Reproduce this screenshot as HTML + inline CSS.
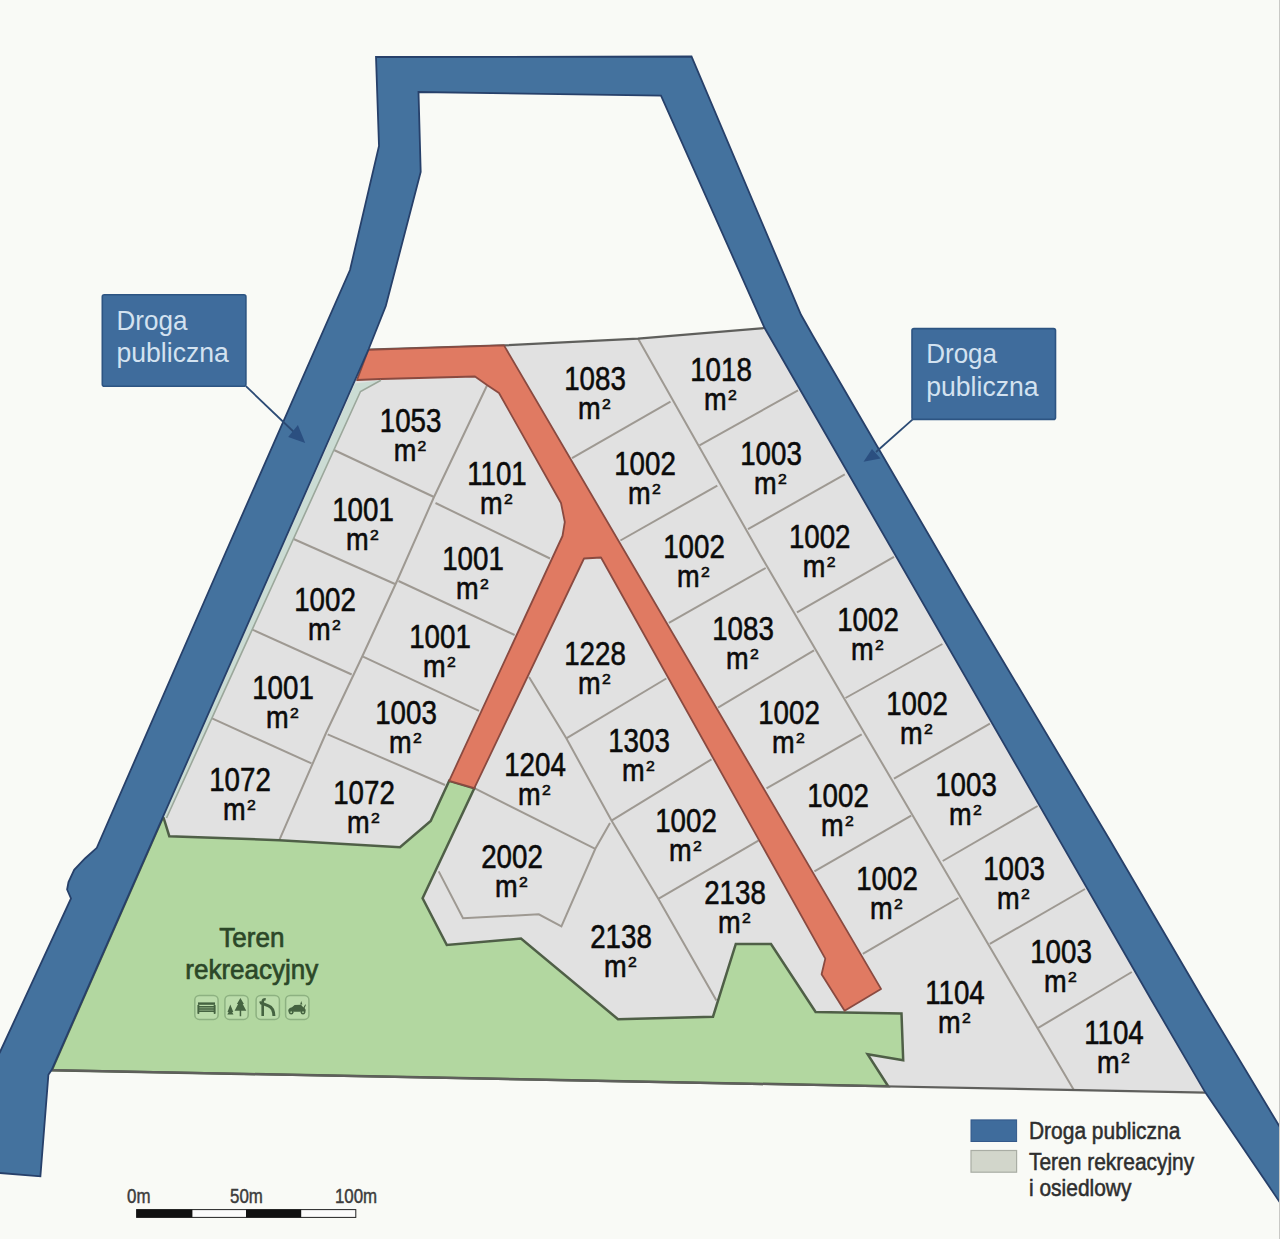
<!DOCTYPE html>
<html lang="pl"><head><meta charset="utf-8"><title>Plan podzialu dzialek</title>
<style>html,body{margin:0;padding:0;background:#f9faf6;}body{width:1280px;height:1239px;overflow:hidden;font-family:"Liberation Sans",sans-serif;}svg{display:block;}</style>
</head><body>
<svg width="1280" height="1239" viewBox="0 0 1280 1239" font-family="'Liberation Sans', sans-serif">
<rect width="1280" height="1239" fill="#f9faf6"/>
<polygon points="368.4,349.6 504.0,345.4 638.0,338.6 764.6,328.0 1151.4,1000.0 1205.4,1092.6 51.7,1070.2 163.2,816.5" fill="#e1e1e1"/>
<polyline points="487.0,385.5 434.0,497.0 397.0,581.0 362.0,657.0 326.0,733.0 279.3,840.2" fill="none" stroke="#9e9992" stroke-width="2"/>
<polyline points="334.0,450.0 434.0,497.0" fill="none" stroke="#9e9992" stroke-width="2"/>
<polyline points="293.6,539.0 395.0,584.0" fill="none" stroke="#9e9992" stroke-width="2"/>
<polyline points="251.7,629.3 351.7,674.5" fill="none" stroke="#9e9992" stroke-width="2"/>
<polyline points="211.5,718.2 311.5,763.4" fill="none" stroke="#9e9992" stroke-width="2"/>
<polyline points="435.5,503.0 550.0,558.5" fill="none" stroke="#9e9992" stroke-width="2"/>
<polyline points="398.5,581.0 514.6,635.0" fill="none" stroke="#9e9992" stroke-width="2"/>
<polyline points="363.0,656.7 479.0,710.8" fill="none" stroke="#9e9992" stroke-width="2"/>
<polyline points="327.7,734.3 445.0,785.0" fill="none" stroke="#9e9992" stroke-width="2"/>
<polyline points="638.0,338.6 760.0,554.3 845.0,700.0 950.5,880.0 1073.7,1089.8" fill="none" stroke="#9e9992" stroke-width="2"/>
<polyline points="572.0,458.2 670.5,401.7" fill="none" stroke="#9e9992" stroke-width="2"/>
<polyline points="620.4,540.5 717.3,485.6" fill="none" stroke="#9e9992" stroke-width="2"/>
<polyline points="668.9,622.8 765.7,568.0" fill="none" stroke="#9e9992" stroke-width="2"/>
<polyline points="718.0,707.6 814.0,650.3" fill="none" stroke="#9e9992" stroke-width="2"/>
<polyline points="766.5,788.3 861.7,734.4" fill="none" stroke="#9e9992" stroke-width="2"/>
<polyline points="814.4,871.4 911.2,815.7" fill="none" stroke="#9e9992" stroke-width="2"/>
<polyline points="862.8,953.8 958.5,898.0" fill="none" stroke="#9e9992" stroke-width="2"/>
<polyline points="699.5,445.3 798.0,390.4" fill="none" stroke="#9e9992" stroke-width="2"/>
<polyline points="748.0,529.2 844.8,474.3" fill="none" stroke="#9e9992" stroke-width="2"/>
<polyline points="797.0,612.4 894.0,556.8" fill="none" stroke="#9e9992" stroke-width="2"/>
<polyline points="845.5,698.0 942.4,644.0" fill="none" stroke="#9e9992" stroke-width="2"/>
<polyline points="894.0,778.6 989.9,723.7" fill="none" stroke="#9e9992" stroke-width="2"/>
<polyline points="942.7,861.0 1037.6,806.0" fill="none" stroke="#9e9992" stroke-width="2"/>
<polyline points="989.8,943.9 1085.0,889.0" fill="none" stroke="#9e9992" stroke-width="2"/>
<polyline points="1038.2,1027.9 1131.8,972.0" fill="none" stroke="#9e9992" stroke-width="2"/>
<polyline points="529.0,677.0 566.3,738.3 611.5,820.6 658.3,898.8 716.4,1000.5" fill="none" stroke="#9e9992" stroke-width="2"/>
<polyline points="566.3,738.3 666.3,678.5" fill="none" stroke="#9e9992" stroke-width="2"/>
<polyline points="611.5,820.6 711.5,759.3" fill="none" stroke="#9e9992" stroke-width="2"/>
<polyline points="658.3,898.8 758.4,840.7" fill="none" stroke="#9e9992" stroke-width="2"/>
<polyline points="474.3,788.2 595.3,848.8" fill="none" stroke="#9e9992" stroke-width="2"/>
<polyline points="610.0,823.0 595.3,848.8 561.4,926.3 538.8,914.3 463.0,918.2 438.7,871.4" fill="none" stroke="#9e9992" stroke-width="2"/>
<polygon points="163.2,816.5 169.3,836.2 279.3,840.2 400.0,847.3 430.7,821.0 449.2,780.8 474.3,788.2 422.6,898.2 446.8,945.0 521.0,938.5 618.0,1019.2 713.0,1016.7 735.8,944.0 771.0,944.0 815.6,1011.9 901.5,1013.6 903.2,1060.3 867.6,1054.2 888.2,1086.3 51.7,1070.2" fill="#b2d7a0" stroke="#4f5f47" stroke-width="2.5" stroke-linejoin="miter"/>
<polyline points="368.4,349.6 504.0,345.4 638.0,338.6 764.6,328.0" fill="none" stroke="#5f5f5c" stroke-width="2.2"/>
<polyline points="51.7,1070.2 1205.4,1092.6" fill="none" stroke="#5f5f5c" stroke-width="2.2"/>
<polygon points="368.4,349.8 504.0,345.4 881.0,988.9 844.6,1010.7 821.6,974.3 825.3,958.6 601.0,557.5 584.0,558.5 474.3,788.2 449.2,780.8 562.5,536.0 564.8,522.0 561.0,503.0 499.0,393.0 487.0,385.0 475.0,376.5 381.0,379.0 357.0,380.0" fill="#e07a62" stroke="#8a4a40" stroke-width="1.8" stroke-linejoin="round"/>
<polygon points="355.0,383.5 381.0,380.3 360.5,391.5 166.5,818.0 163.2,816.5" fill="#cbdcd4"/>
<polyline points="381.0,380.3 360.5,391.5 166.5,818.0" fill="none" stroke="#9ba79b" stroke-width="1.6"/>
<polygon points="-10.0,1073.0 0.0,1052.0 71.0,898.5 67.1,889.5 68.5,882.0 74.2,869.8 85.0,858.5 96.8,847.8 218.0,570.0 350.0,270.0 379.0,146.0 376.0,57.0 691.5,56.5 801.0,314.8 813.0,336.0 966.6,600.0 1109.2,839.0 1203.4,1000.0 1280.0,1127.3 1290.0,1144.0 1290.0,1217.0 1280.0,1202.5 1205.4,1092.6 1151.4,1000.0 764.6,328.0 661.0,95.7 418.5,92.0 420.7,172.0 385.8,306.0 368.7,349.0 51.7,1069.8 48.4,1074.7 40.4,1176.4 0.0,1173.0 -10.0,1172.0" fill="#44729e" stroke="#27406a" stroke-width="1.8" stroke-linejoin="miter"/>
<g fill="#0b0b0b" stroke="#0b0b0b" stroke-width="0.6">
<text transform="translate(410.6,431.8) scale(0.82,1)" font-size="33.8" text-anchor="middle">1053</text>
<text transform="translate(405.0,461.0) scale(0.87,1)" font-size="31.2" text-anchor="middle">m</text>
<text transform="translate(421.9,451.0) scale(1.05,1)" font-size="15.0" text-anchor="middle">2</text>
<text transform="translate(497.0,485.0) scale(0.82,1)" font-size="33.8" text-anchor="middle">1101</text>
<text transform="translate(491.4,514.2) scale(0.87,1)" font-size="31.2" text-anchor="middle">m</text>
<text transform="translate(508.3,504.2) scale(1.05,1)" font-size="15.0" text-anchor="middle">2</text>
<text transform="translate(363.0,521.0) scale(0.82,1)" font-size="33.8" text-anchor="middle">1001</text>
<text transform="translate(357.4,550.2) scale(0.87,1)" font-size="31.2" text-anchor="middle">m</text>
<text transform="translate(374.3,540.2) scale(1.05,1)" font-size="15.0" text-anchor="middle">2</text>
<text transform="translate(473.0,570.0) scale(0.82,1)" font-size="33.8" text-anchor="middle">1001</text>
<text transform="translate(467.4,599.2) scale(0.87,1)" font-size="31.2" text-anchor="middle">m</text>
<text transform="translate(484.3,589.2) scale(1.05,1)" font-size="15.0" text-anchor="middle">2</text>
<text transform="translate(325.0,611.0) scale(0.82,1)" font-size="33.8" text-anchor="middle">1002</text>
<text transform="translate(319.4,640.2) scale(0.87,1)" font-size="31.2" text-anchor="middle">m</text>
<text transform="translate(336.3,630.2) scale(1.05,1)" font-size="15.0" text-anchor="middle">2</text>
<text transform="translate(440.0,648.0) scale(0.82,1)" font-size="33.8" text-anchor="middle">1001</text>
<text transform="translate(434.4,677.2) scale(0.87,1)" font-size="31.2" text-anchor="middle">m</text>
<text transform="translate(451.3,667.2) scale(1.05,1)" font-size="15.0" text-anchor="middle">2</text>
<text transform="translate(283.0,699.0) scale(0.82,1)" font-size="33.8" text-anchor="middle">1001</text>
<text transform="translate(277.4,728.2) scale(0.87,1)" font-size="31.2" text-anchor="middle">m</text>
<text transform="translate(294.3,718.2) scale(1.05,1)" font-size="15.0" text-anchor="middle">2</text>
<text transform="translate(406.0,724.0) scale(0.82,1)" font-size="33.8" text-anchor="middle">1003</text>
<text transform="translate(400.4,753.2) scale(0.87,1)" font-size="31.2" text-anchor="middle">m</text>
<text transform="translate(417.3,743.2) scale(1.05,1)" font-size="15.0" text-anchor="middle">2</text>
<text transform="translate(240.0,791.0) scale(0.82,1)" font-size="33.8" text-anchor="middle">1072</text>
<text transform="translate(234.4,820.2) scale(0.87,1)" font-size="31.2" text-anchor="middle">m</text>
<text transform="translate(251.3,810.2) scale(1.05,1)" font-size="15.0" text-anchor="middle">2</text>
<text transform="translate(364.0,804.0) scale(0.82,1)" font-size="33.8" text-anchor="middle">1072</text>
<text transform="translate(358.4,833.2) scale(0.87,1)" font-size="31.2" text-anchor="middle">m</text>
<text transform="translate(375.3,823.2) scale(1.05,1)" font-size="15.0" text-anchor="middle">2</text>
<text transform="translate(595.0,390.0) scale(0.82,1)" font-size="33.8" text-anchor="middle">1083</text>
<text transform="translate(589.4,419.2) scale(0.87,1)" font-size="31.2" text-anchor="middle">m</text>
<text transform="translate(606.3,409.2) scale(1.05,1)" font-size="15.0" text-anchor="middle">2</text>
<text transform="translate(721.0,381.0) scale(0.82,1)" font-size="33.8" text-anchor="middle">1018</text>
<text transform="translate(715.4,410.2) scale(0.87,1)" font-size="31.2" text-anchor="middle">m</text>
<text transform="translate(732.3,400.2) scale(1.05,1)" font-size="15.0" text-anchor="middle">2</text>
<text transform="translate(645.0,475.0) scale(0.82,1)" font-size="33.8" text-anchor="middle">1002</text>
<text transform="translate(639.4,504.2) scale(0.87,1)" font-size="31.2" text-anchor="middle">m</text>
<text transform="translate(656.3,494.2) scale(1.05,1)" font-size="15.0" text-anchor="middle">2</text>
<text transform="translate(771.0,465.0) scale(0.82,1)" font-size="33.8" text-anchor="middle">1003</text>
<text transform="translate(765.4,494.2) scale(0.87,1)" font-size="31.2" text-anchor="middle">m</text>
<text transform="translate(782.3,484.2) scale(1.05,1)" font-size="15.0" text-anchor="middle">2</text>
<text transform="translate(694.0,558.0) scale(0.82,1)" font-size="33.8" text-anchor="middle">1002</text>
<text transform="translate(688.4,587.2) scale(0.87,1)" font-size="31.2" text-anchor="middle">m</text>
<text transform="translate(705.3,577.2) scale(1.05,1)" font-size="15.0" text-anchor="middle">2</text>
<text transform="translate(819.7,548.0) scale(0.82,1)" font-size="33.8" text-anchor="middle">1002</text>
<text transform="translate(814.1,577.2) scale(0.87,1)" font-size="31.2" text-anchor="middle">m</text>
<text transform="translate(831.0,567.2) scale(1.05,1)" font-size="15.0" text-anchor="middle">2</text>
<text transform="translate(743.0,640.0) scale(0.82,1)" font-size="33.8" text-anchor="middle">1083</text>
<text transform="translate(737.4,669.2) scale(0.87,1)" font-size="31.2" text-anchor="middle">m</text>
<text transform="translate(754.3,659.2) scale(1.05,1)" font-size="15.0" text-anchor="middle">2</text>
<text transform="translate(868.0,631.0) scale(0.82,1)" font-size="33.8" text-anchor="middle">1002</text>
<text transform="translate(862.4,660.2) scale(0.87,1)" font-size="31.2" text-anchor="middle">m</text>
<text transform="translate(879.3,650.2) scale(1.05,1)" font-size="15.0" text-anchor="middle">2</text>
<text transform="translate(789.0,724.0) scale(0.82,1)" font-size="33.8" text-anchor="middle">1002</text>
<text transform="translate(783.4,753.2) scale(0.87,1)" font-size="31.2" text-anchor="middle">m</text>
<text transform="translate(800.3,743.2) scale(1.05,1)" font-size="15.0" text-anchor="middle">2</text>
<text transform="translate(917.0,715.0) scale(0.82,1)" font-size="33.8" text-anchor="middle">1002</text>
<text transform="translate(911.4,744.2) scale(0.87,1)" font-size="31.2" text-anchor="middle">m</text>
<text transform="translate(928.3,734.2) scale(1.05,1)" font-size="15.0" text-anchor="middle">2</text>
<text transform="translate(838.0,807.0) scale(0.82,1)" font-size="33.8" text-anchor="middle">1002</text>
<text transform="translate(832.4,836.2) scale(0.87,1)" font-size="31.2" text-anchor="middle">m</text>
<text transform="translate(849.3,826.2) scale(1.05,1)" font-size="15.0" text-anchor="middle">2</text>
<text transform="translate(966.0,796.0) scale(0.82,1)" font-size="33.8" text-anchor="middle">1003</text>
<text transform="translate(960.4,825.2) scale(0.87,1)" font-size="31.2" text-anchor="middle">m</text>
<text transform="translate(977.3,815.2) scale(1.05,1)" font-size="15.0" text-anchor="middle">2</text>
<text transform="translate(887.0,890.0) scale(0.82,1)" font-size="33.8" text-anchor="middle">1002</text>
<text transform="translate(881.4,919.2) scale(0.87,1)" font-size="31.2" text-anchor="middle">m</text>
<text transform="translate(898.3,909.2) scale(1.05,1)" font-size="15.0" text-anchor="middle">2</text>
<text transform="translate(1014.0,880.0) scale(0.82,1)" font-size="33.8" text-anchor="middle">1003</text>
<text transform="translate(1008.4,909.2) scale(0.87,1)" font-size="31.2" text-anchor="middle">m</text>
<text transform="translate(1025.3,899.2) scale(1.05,1)" font-size="15.0" text-anchor="middle">2</text>
<text transform="translate(955.0,1004.0) scale(0.82,1)" font-size="33.8" text-anchor="middle">1104</text>
<text transform="translate(949.4,1033.2) scale(0.87,1)" font-size="31.2" text-anchor="middle">m</text>
<text transform="translate(966.3,1023.2) scale(1.05,1)" font-size="15.0" text-anchor="middle">2</text>
<text transform="translate(1061.0,963.0) scale(0.82,1)" font-size="33.8" text-anchor="middle">1003</text>
<text transform="translate(1055.4,992.2) scale(0.87,1)" font-size="31.2" text-anchor="middle">m</text>
<text transform="translate(1072.3,982.2) scale(1.05,1)" font-size="15.0" text-anchor="middle">2</text>
<text transform="translate(1114.0,1044.0) scale(0.82,1)" font-size="33.8" text-anchor="middle">1104</text>
<text transform="translate(1108.4,1073.2) scale(0.87,1)" font-size="31.2" text-anchor="middle">m</text>
<text transform="translate(1125.3,1063.2) scale(1.05,1)" font-size="15.0" text-anchor="middle">2</text>
<text transform="translate(595.0,665.0) scale(0.82,1)" font-size="33.8" text-anchor="middle">1228</text>
<text transform="translate(589.4,694.2) scale(0.87,1)" font-size="31.2" text-anchor="middle">m</text>
<text transform="translate(606.3,684.2) scale(1.05,1)" font-size="15.0" text-anchor="middle">2</text>
<text transform="translate(639.0,752.0) scale(0.82,1)" font-size="33.8" text-anchor="middle">1303</text>
<text transform="translate(633.4,781.2) scale(0.87,1)" font-size="31.2" text-anchor="middle">m</text>
<text transform="translate(650.3,771.2) scale(1.05,1)" font-size="15.0" text-anchor="middle">2</text>
<text transform="translate(535.0,776.0) scale(0.82,1)" font-size="33.8" text-anchor="middle">1204</text>
<text transform="translate(529.4,805.2) scale(0.87,1)" font-size="31.2" text-anchor="middle">m</text>
<text transform="translate(546.3,795.2) scale(1.05,1)" font-size="15.0" text-anchor="middle">2</text>
<text transform="translate(686.0,832.0) scale(0.82,1)" font-size="33.8" text-anchor="middle">1002</text>
<text transform="translate(680.4,861.2) scale(0.87,1)" font-size="31.2" text-anchor="middle">m</text>
<text transform="translate(697.3,851.2) scale(1.05,1)" font-size="15.0" text-anchor="middle">2</text>
<text transform="translate(512.0,868.0) scale(0.82,1)" font-size="33.8" text-anchor="middle">2002</text>
<text transform="translate(506.4,897.2) scale(0.87,1)" font-size="31.2" text-anchor="middle">m</text>
<text transform="translate(523.3,887.2) scale(1.05,1)" font-size="15.0" text-anchor="middle">2</text>
<text transform="translate(735.0,904.0) scale(0.82,1)" font-size="33.8" text-anchor="middle">2138</text>
<text transform="translate(729.4,933.2) scale(0.87,1)" font-size="31.2" text-anchor="middle">m</text>
<text transform="translate(746.3,923.2) scale(1.05,1)" font-size="15.0" text-anchor="middle">2</text>
<text transform="translate(621.0,948.0) scale(0.82,1)" font-size="33.8" text-anchor="middle">2138</text>
<text transform="translate(615.4,977.2) scale(0.87,1)" font-size="31.2" text-anchor="middle">m</text>
<text transform="translate(632.3,967.2) scale(1.05,1)" font-size="15.0" text-anchor="middle">2</text>
</g>
<polyline points="245.9,386.2 296.0,434.0" fill="none" stroke="#2b4a74" stroke-width="1.8"/>
<polygon points="305.2,443.1 297.9,425.0 288.2,437.0" fill="#2b4f80"/>
<rect x="102.3" y="294.7" width="143.60000000000002" height="91.5" rx="2" fill="#3f6c9c" stroke="#2d5482" stroke-width="1.6"/>
<g fill="#d3e2f0" font-size="28"><text transform="translate(116.5,330) scale(0.93,1)">Droga</text><text transform="translate(116.5,362) scale(0.95,1)">publiczna</text></g>
<polyline points="912.7,419.4 876.0,452.0" fill="none" stroke="#2b4a74" stroke-width="1.8"/>
<polygon points="863.5,461.7 872.0,449.0 880.5,458.6" fill="#2b4f80"/>
<rect x="912" y="328.6" width="143.5" height="90.79999999999995" rx="2" fill="#3f6c9c" stroke="#2d5482" stroke-width="1.6"/>
<g fill="#d3e2f0" font-size="28"><text transform="translate(926.2,363.4) scale(0.93,1)">Droga</text><text transform="translate(926.2,396.1) scale(0.95,1)">publiczna</text></g>
<g fill="#2c4728" stroke="#2c4728" stroke-width="0.7" font-size="28" text-anchor="middle"><text transform="translate(251.8,947) scale(0.93,1)">Teren</text><text transform="translate(251.8,978.5) scale(0.93,1)">rekreacyjny</text></g>
<rect x="194.8" y="995.4" width="23.3" height="24" rx="4.5" fill="#bbdcab" stroke="#8db181" stroke-width="1.5"/>
<g transform="translate(194.8,995.4)" fill="#456341"><rect x="3.2" y="7" width="17" height="2.4"/><rect x="3.6" y="10.6" width="16.2" height="1.6"/><rect x="3.6" y="12.8" width="16.2" height="1.6"/><rect x="3.6" y="15" width="16.2" height="1.6"/><rect x="2.6" y="9.4" width="1.9" height="9.2" rx="0.8"/><rect x="18.9" y="9.4" width="1.9" height="9.2" rx="0.8"/></g>
<rect x="224.9" y="995.4" width="23.3" height="24" rx="4.5" fill="#bbdcab" stroke="#8db181" stroke-width="1.5"/>
<g transform="translate(224.9,995.4)" fill="#456341"><path d="M5.4 9.2 L8.4 16.6 L7.2 16.6 L8.6 19.2 L2.4 19.2 L3.8 16.6 L2.6 16.6 Z"/><path d="M15.5 2.6 L19 8.6 L17.8 8.6 L21.4 15.4 L16.3 15.4 L16.3 20.8 L14.8 20.8 L14.8 15.4 L9.7 15.4 L13.2 8.6 L12 8.6 Z"/></g>
<rect x="256.1" y="995.4" width="23.3" height="24" rx="4.5" fill="#bbdcab" stroke="#8db181" stroke-width="1.5"/>
<g transform="translate(256.1,995.4)" fill="none" stroke="#456341" stroke-linecap="butt"><path d="M6.6 20.6 L6.6 6.4 Q6.6 3.6 9.6 3.8" stroke-width="2.6"/><path d="M4.2 7.2 Q9 9.2 12.4 10.4 Q17.6 12.4 17.8 20.6" stroke-width="3"/><path d="M3.6 6.2 L5.4 8.4" stroke-width="1.6"/></g>
<rect x="285.6" y="995.4" width="23.3" height="24" rx="4.5" fill="#bbdcab" stroke="#8db181" stroke-width="1.5"/>
<g transform="translate(285.6,995.4)" fill="#456341"><path d="M2.6 15.6 Q2.8 12.4 6.4 11.8 L9 9.6 L15.4 9.4 L17.8 12 L19.6 9 L20.4 9.4 L19 12.6 Q20.6 14 20 16.4 L2.8 16.4 Z"/><circle cx="5.6" cy="16.8" r="2.3"/><circle cx="17.4" cy="16.8" r="2.3"/><path d="M14.6 9 L15.6 5.6 L16.8 9 Z"/><circle cx="5.6" cy="16.8" r="0.9" fill="#a9cc9a"/><circle cx="17.4" cy="16.8" r="0.9" fill="#a9cc9a"/></g>
<g fill="#3c3c3c" stroke="#3c3c3c" stroke-width="0.45" font-size="19.4" text-anchor="middle"><text transform="translate(138.8,1203.2) scale(0.87,1)">0m</text><text transform="translate(246.5,1203.2) scale(0.87,1)">50m</text><text transform="translate(356,1203.2) scale(0.87,1)">100m</text></g>
<rect x="136.6" y="1209.6" width="219.2" height="7.8" fill="#fbfbfb" stroke="#222" stroke-width="1"/>
<rect x="136.6" y="1209.6" width="55.8" height="7.8" fill="#111"/>
<rect x="246" y="1209.6" width="55.2" height="7.8" fill="#111"/>
<rect x="971" y="1119.9" width="45.6" height="21.6" fill="#3f6c9c" stroke="#34598a" stroke-width="1"/>
<rect x="971" y="1150.5" width="45.6" height="21.7" fill="#d2d6cb" stroke="#a9ada4" stroke-width="1.2"/>
<g fill="#2e2e2e" stroke="#2e2e2e" stroke-width="0.55" font-size="24.5"><text transform="translate(1029,1138.6) scale(0.855,1)">Droga publiczna</text><text transform="translate(1029,1170) scale(0.855,1)">Teren rekreacyjny</text><text transform="translate(1029,1195.7) scale(0.855,1)">i osiedlowy</text></g>
<rect x="1279" y="0" width="1" height="1239" fill="#c9c9c6"/>
</svg>
</body></html>
